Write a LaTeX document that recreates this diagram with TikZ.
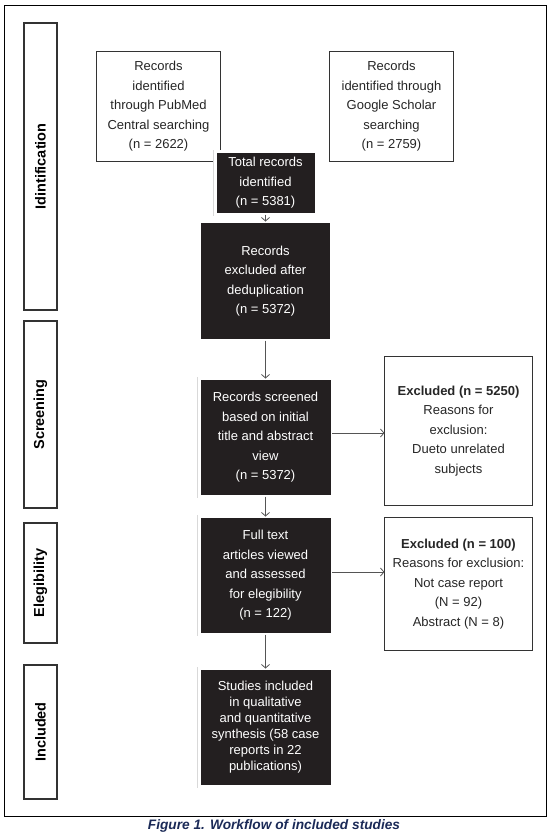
\documentclass[tikz,border=0pt]{standalone}
\usepackage{fontspec}
\setmainfont{Liberation Sans}
\usepackage{tikz}
\usetikzlibrary{positioning,arrows.meta}

\definecolor{boxblack}{HTML}{231F20}
\definecolor{arrowgray}{HTML}{555555}
\definecolor{capblue}{HTML}{1B2A57}

\begin{document}
\begin{tikzpicture}[
  x=1pt, y=1pt,
  txt/.style={font=\fontsize{13}{19.5}\selectfont, align=center},
  srcbox/.style={txt, draw=black!80, line width=1.2pt, fill=white, text=black!85, minimum width=124pt, outer sep=0pt},
  darkbox/.style={txt, fill=boxblack, text=white, draw=white, line width=3pt, preaction={draw=black!15, line width=3.8pt}, minimum width=133pt, minimum height=118pt, outer sep=0pt},
  phase/.style={draw=black!80, line width=1.2pt, fill=white, rotate=90, minimum height=33pt, font=\fontsize{14.5}{17}\selectfont\bfseries, outer sep=0pt},
  arrow/.style={-{Straight Barb[length=3.5pt,width=8pt]}, line width=0.8pt, draw=arrowgray}
]
\useasboundingbox (0,0) rectangle (552,-838);
\draw[line width=1pt] (4,-5) rectangle (546,-816);

% phases
\node[phase, minimum width=287pt] (ident) at (40.5,-166.5) {Idintification};
\node[phase, minimum width=187pt] (screen) at (40.5,-414.5) {Screening};
\node[phase, minimum width=120pt] (elig) at (40.5,-583) {Elegibility};
\node[phase, minimum width=134pt] (incl) at (40.5,-732) {Included};

% flow
\node[srcbox, minimum height=110pt] (pubmed) at (158.5,-106.5) {Records\\identified\\through PubMed\\Central searching\\(n = 2622)};
\node[srcbox, minimum height=110pt] (scholar) at (391.5,-106.5) {Records\\identified through\\Google Scholar\\searching\\(n = 2759)};
\node[darkbox, minimum width=101pt, minimum height=63pt, inner sep=1pt] (total) at (265.5,-183) {Total records\\identified\\(n = 5381)};
\node[darkbox, minimum width=132pt, minimum height=119pt, below=7pt of total] (dedup) {Records\\excluded after\\deduplication\\(n = 5372)};
\node[darkbox, below=38pt of dedup] (screened) {Records screened\\based on initial\\title and abstract\\view\\(n = 5372)};
\node[darkbox, below=20pt of screened] (fulltext) {Full text\\articles viewed\\and assessed\\for elegibility\\(n = 122)};
\node[darkbox, below=34pt of fulltext, font=\fontsize{13}{16}\selectfont] (included) {Studies included\\in qualitative\\and quantitative\\synthesis (58 case\\reports in 22\\publications)};

\node[srcbox, minimum width=148pt, minimum height=149pt] (excl1) at (458.5,-431) {\textbf{Excluded (n = 5250)}\\Reasons for\\exclusion:\\Dueto unrelated\\subjects};
\node[srcbox, minimum width=148pt, minimum height=133pt] (excl2) at (458.5,-584) {\textbf{Excluded (n = 100)}\\Reasons for exclusion:\\Not case report\\(N = 92)\\Abstract (N = 8)};

\draw[arrow] (total) -- (dedup);
\draw[arrow] (dedup) -- (screened);
\draw[arrow] (screened) -- (fulltext);
\draw[arrow] (fulltext) -- (included);
\draw[arrow] ([yshift=4.5pt]screened.east) -- ([yshift=4.5pt]screened.east -| excl1.west);
\draw[arrow] ([yshift=3.5pt]fulltext.east) -- ([yshift=3.5pt]fulltext.east -| excl2.west);

\node[font=\fontsize{13.7}{16}\selectfont\bfseries\itshape, text=capblue] (caption) at (274,-826) {Figure 1. Workflow of included studies};
\end{tikzpicture}
\end{document}
